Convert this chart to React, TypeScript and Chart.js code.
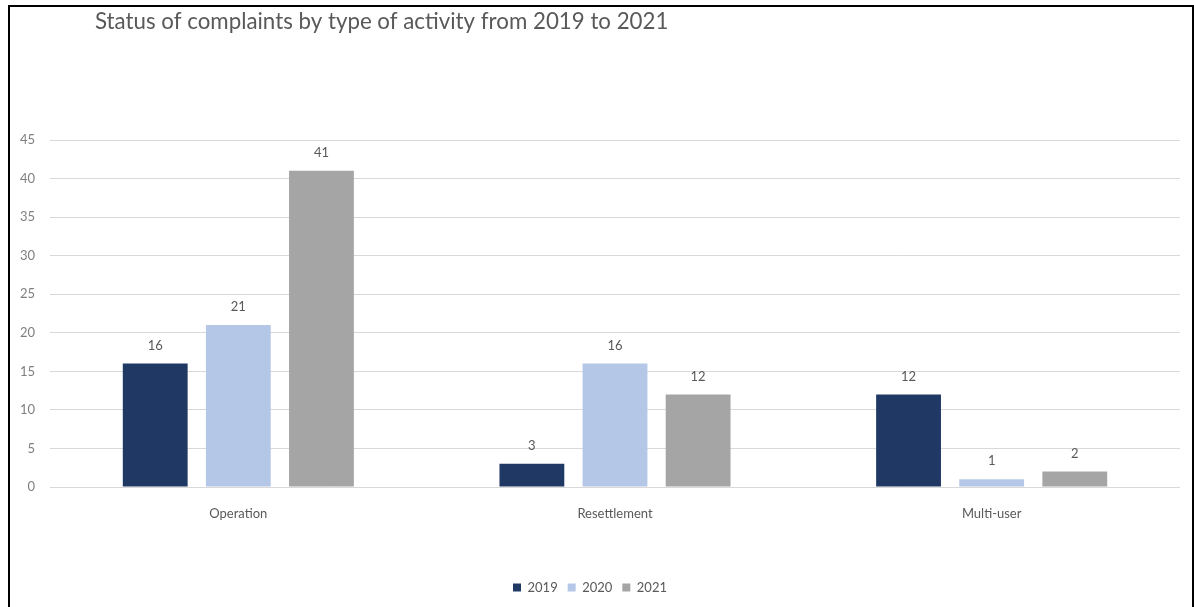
import React, { useEffect, useRef } from "react";
import { Chart, registerables } from "chart.js";

Chart.register(...registerables);

const categories = ["Operation", "Resettlement", "Multi-user"];
const years = ["2019", "2020", "2021"];
const values2019 = [16, 3, 12];
const values2020 = [21, 16, 1];
const values2021 = [41, 12, 2];
const yTicks = [0, 5, 10, 15, 20, 25, 30, 35, 40, 45];
const titleText = "Status of complaints by type of activity from 2019 to 2021";

const FONT = "Lato, 'Open Sans', sans-serif";
const TEXT = "#595959";

const titlePlugin = {
  id: "customTitle",
  afterDraw(chart: any) {
    const ctx = chart.ctx;
    ctx.save();
    ctx.font = `22.3px ${FONT}`;
    ctx.fillStyle = TEXT;
    ctx.textAlign = "left";
    ctx.textBaseline = "middle";
    ctx.fillText(titleText, 95, 22);
    ctx.restore();
  },
};

const valueLabels = {
  id: "valueLabels",
  afterDatasetsDraw(chart: any) {
    const ctx = chart.ctx;
    ctx.save();
    ctx.font = `13px ${FONT}`;
    ctx.fillStyle = TEXT;
    ctx.textAlign = "center";
    ctx.textBaseline = "middle";
    chart.data.datasets.forEach((ds: any, i: number) => {
      const meta = chart.getDatasetMeta(i);
      meta.data.forEach((bar: any, j: number) => {
        ctx.fillText(String(ds.data[j]), bar.x, bar.y - 18);
      });
    });
    ctx.restore();
  },
};

export default function App() {
  const ref = useRef<HTMLCanvasElement>(null);
  useEffect(() => {
    if (!ref.current) return;
    const chart = new Chart(ref.current, {
      type: "bar",
      data: {
        labels: categories,
        datasets: [
          { label: years[0], data: values2019, backgroundColor: "#1F3864" },
          { label: years[1], data: values2020, backgroundColor: "#B4C7E7" },
          { label: years[2], data: values2021, backgroundColor: "#A5A5A5" },
        ],
      },
      options: {
        responsive: false,
        animation: false,
        layout: { padding: { top: 140, right: 14, bottom: 3, left: 0 } },
        datasets: { bar: { categoryPercentage: 0.662, barPercentage: 0.78 } },
        plugins: {
          title: { display: false },
          tooltip: { enabled: false },
          legend: {
            position: "bottom",
            labels: {
              boxWidth: 8,
              boxHeight: 8,
              color: TEXT,
              font: { family: FONT, size: 13 },
              padding: 10,
            },
          },
        },
        scales: {
          x: {
            grid: { display: false },
            border: { display: false },
            ticks: { color: TEXT, font: { family: FONT, size: 13 }, padding: 11 },
            afterFit: (s: any) => {
              s.height = 84;
            },
          },
          y: {
            min: 0,
            max: 45,
            afterBuildTicks: (s: any) => {
              s.ticks = yTicks.map((v) => ({ value: v }));
            },
            grid: { color: "#D9D9D9", lineWidth: 1, drawTicks: false },
            border: { display: false },
            ticks: { color: "#7F7F7F", font: { family: FONT, size: 13 }, padding: 15 },
            afterFit: (s: any) => {
              s.width = 50;
            },
          },
        },
      },
      plugins: [titlePlugin, valueLabels],
    });
    return () => chart.destroy();
  }, []);

  return (
    <div style={{ position: "fixed", left: 0, top: 0, width: 1194, height: 607, background: "#fff", overflow: "hidden" }}>
      <div
        style={{
          position: "absolute",
          left: 8,
          top: 5,
          width: 1186,
          height: 700,
          border: "2px solid #000",
          borderBottom: "none",
          boxSizing: "border-box",
        }}
      />
      <canvas ref={ref} width={1194} height={607} style={{ position: "absolute", left: 0, top: 0 }} />
    </div>
  );
}
